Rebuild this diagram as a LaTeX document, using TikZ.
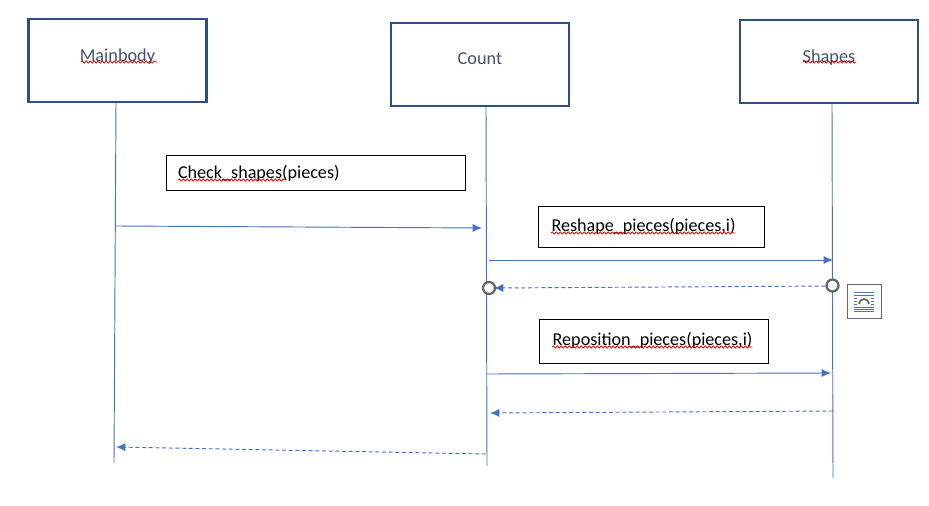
\documentclass[tikz,border=0pt]{standalone}
\usepackage{fontspec}
\setmainfont{Carlito}
\usetikzlibrary{arrows.meta,decorations.pathmorphing}
\definecolor{boxblue}{HTML}{2F5082}
\definecolor{lineblue}{HTML}{4472C4}
\definecolor{headtext}{HTML}{44546A}
\definecolor{handle}{HTML}{666666}
\tikzset{
 x=0.75pt,y=-0.75pt,
 header/.style={draw=boxblue,line width=1.6pt,fill=white,text=headtext,inner sep=0pt,font=\fontsize{13.7}{15}\selectfont},
 msgbox/.style={draw=black,line width=0.75pt,fill=white,text=black,inner sep=0pt,font=\fontsize{13.6}{15}\selectfont},
 life/.style={draw=lineblue,line width=0.7pt},
 call/.style={draw=lineblue,line width=0.7pt,-{Latex[length=7pt,width=6pt]}},
 reply/.style={call,densely dashed,-{Latex[length=7pt,width=6pt]}},
 squig/.style={draw=red!85!black,line width=0.55pt,decorate,decoration={snake,amplitude=0.8pt,segment length=3pt}},
 handlecirc/.style={circle,draw=handle,line width=1.7pt,fill=white,minimum size=9pt,inner sep=0pt},
}
\begin{document}
\begin{tikzpicture}
\useasboundingbox (0,0) rectangle (929,506);
% lifelines ends
\coordinate (mt) at (116,102);
\coordinate (mb) at (114,463);
\coordinate (ct) at (486,106);
\coordinate (cb) at (487,466);
\coordinate (st) at (832,103);
\coordinate (sb) at (833,478);
\path[life] (mt) -- (mb);
\path[life] (ct) -- (cb);
\path[life] (st) -- (sb);
% headers
\node[header,minimum width=133.5pt,minimum height=62pt] (main) at (117.5,60.5) {\raisebox{8.4pt}{Mainbody}};
\node[header,minimum width=133.5pt,minimum height=62pt] (count) at (480,64.5) {\raisebox{8.4pt}{Count}};
\node[header,minimum width=133.5pt,minimum height=62pt] (shapes) at (829,61.5) {\raisebox{8.4pt}{Shapes}};
% message boxes
\node[msgbox,minimum width=224pt,minimum height=26.5pt,text width=207pt,align=left] (b1) at (316,173) {Check\_shapes(pieces)};
\node[msgbox,minimum width=169pt,minimum height=30.5pt,text width=150pt,align=left] (b2) at (651.5,227) {\raisebox{2.6pt}{Reshape\_pieces(pieces,i)}};
\node[msgbox,minimum width=172pt,minimum height=33pt,text width=152pt,align=left] (b3) at (654,341) {\raisebox{2.6pt}{Reposition\_pieces(pieces,i)}};
% squiggles
\draw[squig] (81,62) -- (157,62);
\draw[squig] (803,62) -- (856,62);
\draw[squig] (178,180) -- (285,180);
\draw[squig] (551,233) -- (735,233);
\draw[squig] (552,347) -- (752,347);
% messages
\coordinate (a1s) at (116,226); \coordinate (a1e) at (482,228);
\coordinate (a2s) at (489,260); \coordinate (a2e) at (833,260);
\coordinate (a3s) at (832,286); \coordinate (a3e) at (494,288);
\coordinate (a4s) at (487,374); \coordinate (a4e) at (831,373);
\coordinate (a5s) at (833,411); \coordinate (a5e) at (490,413);
\coordinate (a6s) at (486,454); \coordinate (a6e) at (116,447);
\path[call] (a1s) -- (a1e);
\path[call] (a2s) -- (a2e);
\path[reply] (a3s) -- (a3e);
\path[call] (a4s) -- (a4e);
\path[reply] (a5s) -- (a5e);
\path[reply] (a6s) -- (a6e);
% selection handles
\node[handlecirc] (h1) at (489,288) {};
\node[handlecirc] (h2) at (832.5,285.5) {};
% layout options icon
\node[draw=handle,line width=0.6pt,fill=white,minimum width=25.5pt,minimum height=25.5pt,inner sep=0pt] (icon) at (864.5,301.5) {};
\foreach \yy in {292,295,307,309,311}
  \draw[lineblue,line width=0.5pt] (854,\yy) -- (874,\yy);
\foreach \yy in {298,301,304}{
  \draw[lineblue,line width=0.5pt] (854,\yy) -- (857,\yy);
  \draw[lineblue,line width=0.5pt] (871,\yy) -- (874,\yy);}
\draw[handle,line width=1.3pt] (859,304) arc[start angle=180,end angle=360,radius=5];
\end{tikzpicture}
\end{document}
